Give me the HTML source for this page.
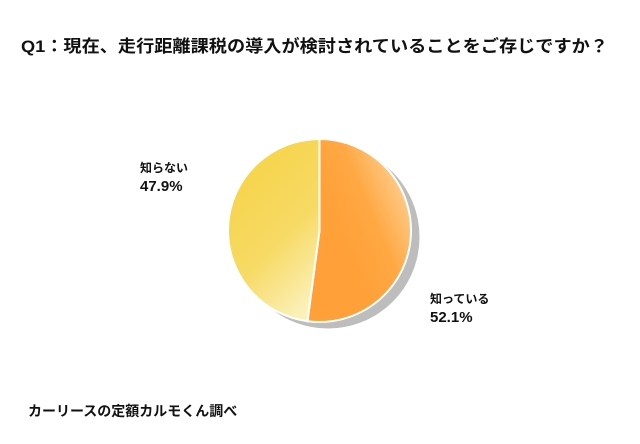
<!DOCTYPE html>
<html><head><meta charset="utf-8"><style>
body{margin:0;background:#fff;}
svg{display:block;font-family:"Liberation Sans","Noto Sans CJK JP",sans-serif;}
</style></head><body>
<svg width="640" height="444" viewBox="0 0 640 444">
<defs>
<linearGradient id="gA" x1="1" y1="0.1" x2="0.35" y2="0.6"><stop offset="0" stop-color="#ffdba8"/><stop offset="0.6" stop-color="#ffa843"/><stop offset="1" stop-color="#ffa038"/></linearGradient>
<linearGradient id="gB" x1="0.3" y1="0.2" x2="0.7" y2="1"><stop offset="0" stop-color="#f6d54f"/><stop offset="0.5" stop-color="#f7da66"/><stop offset="1" stop-color="#fbf0b8"/></linearGradient>
</defs>
<text x="21" y="52" font-size="17" font-weight="bold" fill="#111" textLength="587" lengthAdjust="spacingAndGlyphs">Q1：現在、走行距離課税の導入が検討されていることをご存じですか？</text>
<circle cx="328" cy="237" r="91.5" fill="#bdbdbd"/>
<g id="slices"></g>
<text x="140" y="172" font-size="12" font-weight="bold" fill="#111">知らない</text>
<text x="140" y="191" font-size="15" font-weight="bold" fill="#111">47.9%</text>
<text x="430" y="303" font-size="12" font-weight="bold" fill="#111">知っている</text>
<text x="430" y="322" font-size="15" font-weight="bold" fill="#111">52.1%</text>
<text x="28" y="416" font-size="14" font-weight="bold" fill="#111">カーリースの定額カルモくん調べ</text>
</svg>
<script>
const categories = ["知っている","知らない"];
const values = [52.1, 47.9];
const fills = ["url(#gA)","url(#gB)"];
const cx=319.5, cy=230.5, r=91.5;
const g=document.getElementById('slices');
const total=values.reduce((a,b)=>a+b,0);
let a0=-Math.PI/2;
values.forEach((v,i)=>{
  const a1=a0+v/total*2*Math.PI;
  const x0=cx+r*Math.cos(a0), y0=cy+r*Math.sin(a0);
  const x1=cx+r*Math.cos(a1), y1=cy+r*Math.sin(a1);
  const large=(a1-a0)>Math.PI?1:0;
  const p=document.createElementNS('http://www.w3.org/2000/svg','path');
  p.setAttribute('d',`M${cx},${cy} L${x0},${y0} A${r},${r} 0 ${large} 1 ${x1},${y1} Z`);
  p.setAttribute('fill',fills[i]);
  p.setAttribute('stroke','#fff');
  p.setAttribute('stroke-width','2');
  
  
  g.appendChild(p);
  a0=a1;
});
</script>
</body></html>
